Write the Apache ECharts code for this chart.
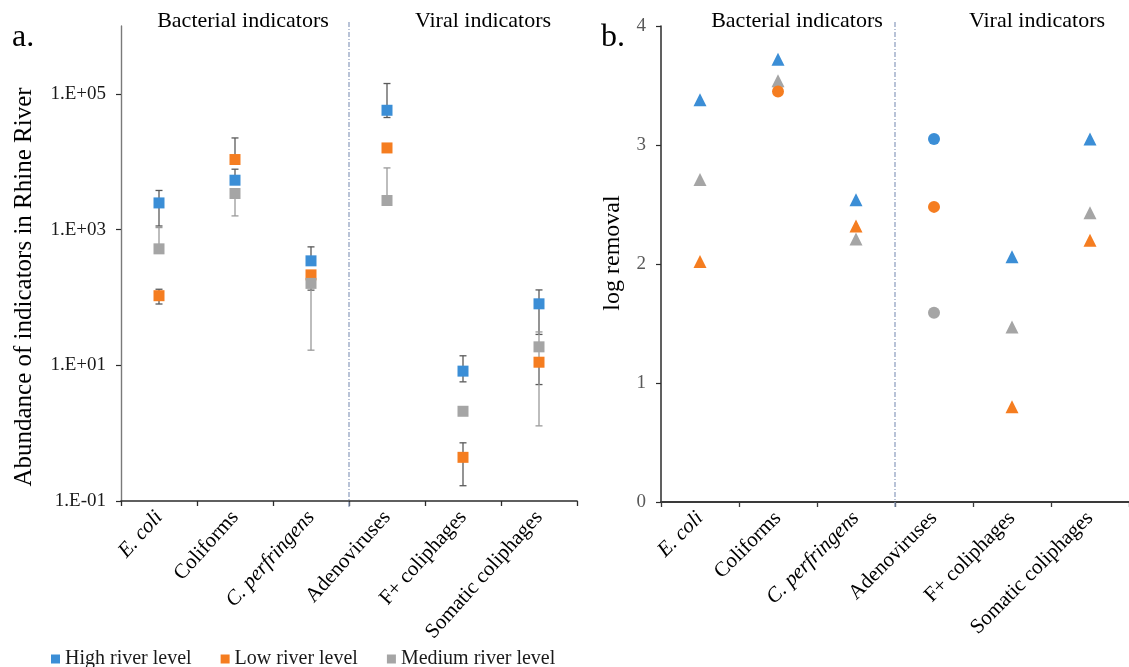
<!DOCTYPE html>
<html>
<head>
<meta charset="utf-8">
<script src="https://cdn.jsdelivr.net/npm/echarts@6/dist/echarts.min.js"></script>
<style>
  html, body { margin: 0; padding: 0; background: #fff; }
  #chart { width: 1129px; height: 667px; }
</style>
</head>
<body>
<div id="chart"></div>
<script>
// Indicator groups shown on both panels
const categories = ['E. coli', 'Coliforms', 'C. perfringens', 'Adenoviruses', 'F+ coliphages', 'Somatic coliphages'];
const italicNames = ['E. coli', 'C. perfringens'];
const levels = ['High river level', 'Low river level', 'Medium river level'];
const groupTitles = ['Bacterial indicators', 'Viral indicators'];
const bacterialCount = 3;

// Panel a: abundance in the Rhine River (mean)
const abundanceHigh = [2470, 5340, 346, 57300, 8.2, 80.5];
const abundanceLow = [106, 10770, 215, 15960, 0.44, 11.1];
const abundanceMedium = [520, 3400, 161, 2680, 2.1, 18.7];

// Panel a: error bar ends (lower / upper)
const errHighLower = [1130, 5340, 346, 44800, 5.7, 28.5];
const errHighUpper = [3770, 7760, 556, 142000, 13.8, 129];
const errLowLower = [80, 10770, 128, 15960, 0.168, 5.2];
const errLowUpper = [132, 22400, 215, 15960, 0.72, 11.1];
const errMediumLower = [520, 1590, 16.7, 2680, 2.1, 1.28];
const errMediumUpper = [1070, 3400, 161, 8100, 2.1, 31];

// Panel a: labelled ticks of the log axis
const abundanceTicks = [0.1, 10, 1000, 100000];

// Panel b: log removal
const removalHigh = [3.38, 3.72, 2.54, 3.05, 2.06, 3.05];
const removalLow = [2.02, 3.45, 2.32, 2.48, 0.80, 2.20];
const removalMedium = [2.71, 3.54, 2.21, 1.59, 1.47, 2.43];

// Panel b: points drawn as circles (the rest are triangles)
const circleHigh = ['Adenoviruses'];
const circleLow = ['Coliforms', 'Adenoviruses'];
const circleMedium = ['Adenoviruses'];

const colors = { 'High river level': '#3b8ed6', 'Low river level': '#f57d20', 'Medium river level': '#a5a5a5' };
const barColors = { 'High river level': '#5a5a5a', 'Low river level': '#5a5a5a', 'Medium river level': '#9a9a9a' };
const SERIF = '"Liberation Serif", "Times New Roman", serif';

function sciLabel(v) {
  const e = Math.round(Math.log10(v));
  const s = e < 0 ? '-' : '+';
  const a = Math.abs(e);
  return '1.E' + s + (a < 10 ? '0' + a : a);
}

function catFormatter(v) {
  return italicNames.indexOf(v) >= 0 ? '{i|' + v + '}' : '{n|' + v + '}';
}

function catLabel(rot) {
  return {
    rotate: rot,
    margin: 13,
    interval: 0,
    color: '#000',
    formatter: catFormatter,
    rich: {
      i: { fontFamily: SERIF, fontSize: 21, fontStyle: 'italic', color: '#000' },
      n: { fontFamily: SERIF, fontSize: 21, color: '#000' }
    }
  };
}

// Vertical dash-dot divider between bacterial and viral indicators
function dividerSeries(xAxisIndex, yAxisIndex, yVal) {
  return {
    type: 'custom',
    xAxisIndex: xAxisIndex,
    yAxisIndex: yAxisIndex,
    silent: true,
    z: 1,
    data: [[bacterialCount - 1, yVal]],
    renderItem: function (params, api) {
      const cs = params.coordSys;
      const x = api.coord([api.value(0), api.value(1)])[0] + api.size([1, 1])[0] / 2;
      return {
        type: 'line',
        shape: { x1: x, y1: cs.y - 4, x2: x, y2: cs.y + cs.height + 6 },
        style: { stroke: '#8a9cbd', lineWidth: 1.2, lineDash: [5, 2, 1, 2] }
      };
    }
  };
}

function errorSeries(name, vals, lows, highs) {
  return {
    type: 'custom',
    name: name,
    xAxisIndex: 0,
    yAxisIndex: 0,
    silent: true,
    z: 2,
    itemStyle: { color: colors[name] },
    encode: { x: 0, y: [1, 2, 3] },
    data: vals.map((v, i) => [i, lows[i], highs[i], v]),
    renderItem: function (params, api) {
      const i = api.value(0);
      const lo = api.value(1), hi = api.value(2), v = api.value(3);
      const pLo = api.coord([i, lo]);
      const pHi = api.coord([i, hi]);
      const st = { stroke: barColors[name], lineWidth: 1.3 };
      const children = [];
      if (lo !== hi) {
        children.push({ type: 'line', shape: { x1: pLo[0], y1: pLo[1], x2: pHi[0], y2: pHi[1] }, style: st });
      }
      if (lo !== v) {
        children.push({ type: 'line', shape: { x1: pLo[0] - 3.5, y1: pLo[1], x2: pLo[0] + 3.5, y2: pLo[1] }, style: st });
      }
      if (hi !== v) {
        children.push({ type: 'line', shape: { x1: pHi[0] - 3.5, y1: pHi[1], x2: pHi[0] + 3.5, y2: pHi[1] }, style: st });
      }
      return { type: 'group', children: children };
    }
  };
}

function abundanceSeries(name, vals) {
  return {
    type: 'scatter',
    name: name,
    xAxisIndex: 0,
    yAxisIndex: 0,
    symbol: 'rect',
    symbolSize: 11,
    z: 3,
    itemStyle: { color: colors[name], opacity: 1 },
    data: vals.map((v, i) => [categories[i], v])
  };
}

function removalSeries(name, vals, circles) {
  return {
    type: 'scatter',
    name: name,
    xAxisIndex: 1,
    yAxisIndex: 1,
    z: 3,
    itemStyle: { color: colors[name], opacity: 1 },
    data: vals.map((v, i) => {
      const circ = circles.indexOf(categories[i]) >= 0;
      return { value: [categories[i], v], symbol: circ ? 'circle' : 'triangle', symbolSize: circ ? 12 : 13 };
    })
  };
}

const chart = echarts.init(document.getElementById('chart'), null, { renderer: 'canvas' });

const option = {
  animation: false,
  backgroundColor: '#fff',
  grid: [
    { left: 121, top: 26, width: 456, height: 475 },
    { left: 661, top: 26, width: 472, height: 476 }
  ],
  legend: {
    data: levels.map(n => ({ name: n, itemStyle: { color: colors[n] } })),
    left: 46,
    top: 644,
    icon: 'rect',
    itemWidth: 9,
    itemHeight: 9,
    itemGap: 29,
    textStyle: { fontFamily: SERIF, fontSize: 20, color: '#1a1a1a' }
  },
  xAxis: [
    {
      type: 'category', gridIndex: 0, data: categories,
      axisLine: { lineStyle: { color: '#2b2b2b', width: 1.6 } },
      axisTick: { show: true, length: 5, inside: false, lineStyle: { color: '#2b2b2b', width: 1.3 } },
      axisLabel: catLabel(48),
      splitLine: { show: false }
    },
    {
      type: 'category', gridIndex: 1, data: categories,
      axisLine: { lineStyle: { color: '#3a3a3a', width: 1.8 } },
      axisTick: { show: true, length: 5, inside: false, lineStyle: { color: '#3a3a3a', width: 1.3 } },
      axisLabel: catLabel(45),
      splitLine: { show: false }
    }
  ],
  yAxis: [
    {
      type: 'log', gridIndex: 0, logBase: 10, min: 0.1, max: 1000000,
      axisLine: { show: true, lineStyle: { color: '#7a7a7a', width: 1.4 } },
      axisTick: { show: true, length: 5, customValues: abundanceTicks, lineStyle: { color: '#2b2b2b', width: 1.2 } },
      axisLabel: {
        customValues: abundanceTicks,
        margin: 15,
        color: '#1a1a1a',
        fontFamily: SERIF,
        fontSize: 19,
        formatter: sciLabel
      },
      splitLine: { show: false },
      minorTick: { show: false }
    },
    {
      type: 'value', gridIndex: 1, min: 0, max: 4, interval: 1,
      axisLine: { show: true, lineStyle: { color: '#2b2b2b', width: 1.5 } },
      axisTick: { show: true, length: 5, lineStyle: { color: '#2b2b2b', width: 1.2 } },
      axisLabel: { margin: 15, color: '#595959', fontFamily: SERIF, fontSize: 19 },
      splitLine: { show: false }
    }
  ],
  graphic: [
    { type: 'text', left: 12, top: 22, style: { text: 'a.', font: '32px ' + SERIF, fill: '#000' } },
    { type: 'text', left: 601, top: 22, style: { text: 'b.', font: '32px ' + SERIF, fill: '#000' } },
    { type: 'text', x: 243, y: 21, style: { text: groupTitles[0], font: '22px ' + SERIF, fill: '#000', align: 'center', verticalAlign: 'middle' } },
    { type: 'text', x: 483, y: 21, style: { text: groupTitles[1], font: '22px ' + SERIF, fill: '#000', align: 'center', verticalAlign: 'middle' } },
    { type: 'text', x: 797, y: 21, style: { text: groupTitles[0], font: '22px ' + SERIF, fill: '#000', align: 'center', verticalAlign: 'middle' } },
    { type: 'text', x: 1037, y: 21, style: { text: groupTitles[1], font: '22px ' + SERIF, fill: '#000', align: 'center', verticalAlign: 'middle' } },
    { type: 'text', x: 24, y: 287, rotation: Math.PI / 2, style: { text: 'Abundance of indicators in Rhine River', font: '25px ' + SERIF, fill: '#000', align: 'center', verticalAlign: 'middle' } },
    { type: 'text', x: 613, y: 253, rotation: Math.PI / 2, style: { text: 'log removal', font: '24px ' + SERIF, fill: '#000', align: 'center', verticalAlign: 'middle' } }
  ],
  series: [
    dividerSeries(0, 0, 1),
    dividerSeries(1, 1, 1),
    errorSeries('High river level', abundanceHigh, errHighLower, errHighUpper),
    errorSeries('Low river level', abundanceLow, errLowLower, errLowUpper),
    errorSeries('Medium river level', abundanceMedium, errMediumLower, errMediumUpper),
    abundanceSeries('High river level', abundanceHigh),
    abundanceSeries('Low river level', abundanceLow),
    abundanceSeries('Medium river level', abundanceMedium),
    removalSeries('High river level', removalHigh, circleHigh),
    removalSeries('Medium river level', removalMedium, circleMedium),
    removalSeries('Low river level', removalLow, circleLow)
  ]
};

chart.setOption(option);
</script>
</body>
</html>
